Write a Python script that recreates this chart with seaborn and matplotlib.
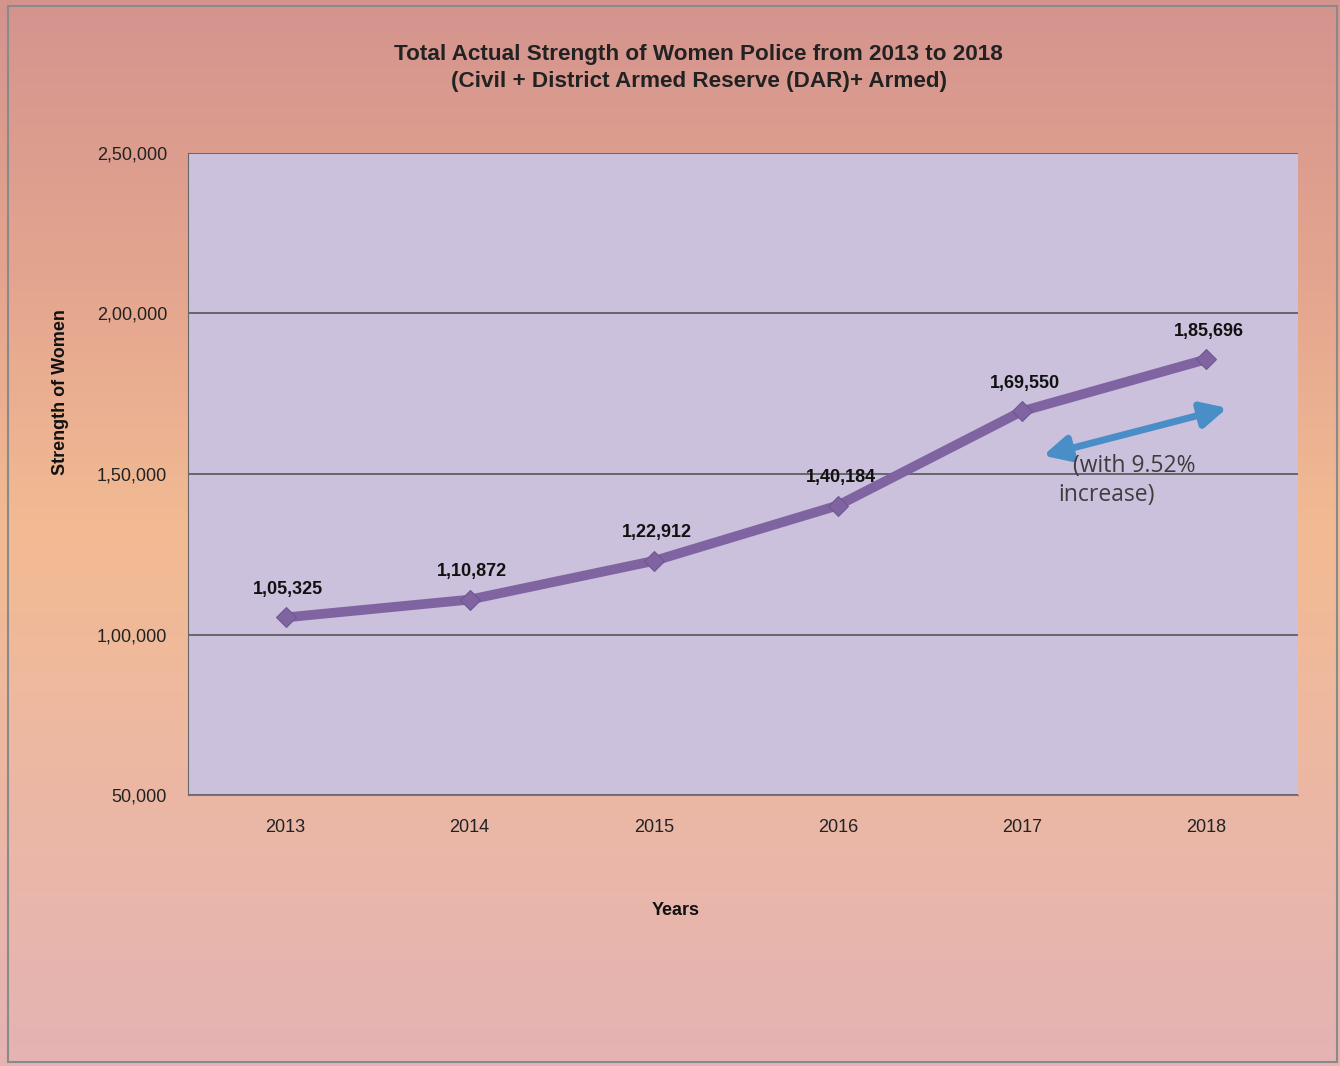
import numpy as np
import pandas as pd
import matplotlib
matplotlib.use("Agg")
import matplotlib.pyplot as plt
from matplotlib.colors import LinearSegmentedColormap
from matplotlib.ticker import FuncFormatter
from matplotlib.patches import Rectangle
import seaborn as sns

years = ["2013", "2014", "2015", "2016", "2017", "2018"]
strength = [105325, 110872, 122912, 140184, 169550, 185696]
y_ticks = [50000, 100000, 150000, 200000, 250000]


def indian(v, pos=None):
    s = str(int(round(v)))
    if len(s) <= 3:
        return s
    head, tail = s[:-3], s[-3:]
    parts = []
    while len(head) > 2:
        parts.insert(0, head[-2:])
        head = head[:-2]
    if head:
        parts.insert(0, head)
    return ",".join(parts + [tail])


df = pd.DataFrame({"Year": years, "Strength": strength})

sns.set_style("white")
plt.rcParams["font.family"] = ["Liberation Sans", "DejaVu Sans"]

fig = plt.figure(figsize=(13.4, 10.66), dpi=100)

# background gradient of the chart area
bg = fig.add_axes([0, 0, 1, 1], zorder=-10)
cmap = LinearSegmentedColormap.from_list(
    "bg", [(0.0, "#d4948e"), (0.25, "#e3a48f"), (0.5, "#f2bb93"),
           (0.8, "#eab7a8"), (1.0, "#e4b3b3")])
grad = np.linspace(0, 1, 256).reshape(-1, 1)
bg.imshow(grad, aspect="auto", cmap=cmap, extent=[0, 1, 0, 1], origin="upper")
bg.add_patch(Rectangle((0.006, 0.004), 0.992, 0.99, fill=False,
                       edgecolor="#8a8a8a", lw=1.5, transform=bg.transAxes))
bg.set_axis_off()

ax = fig.add_axes([0.1403, 0.2542, 0.8284, 0.6023])
ax.set_facecolor("#cbc1dc")
sns.lineplot(data=df, x="Year", y="Strength", ax=ax, color="#8064a2",
             lw=7, marker="D", markersize=10, markeredgecolor="#6f5590",
             sort=False)

ax.set_xlim(-0.53, 5.5)
ax.set_ylim(50000, 250000)
ax.set_yticks(y_ticks)
ax.yaxis.set_major_formatter(FuncFormatter(indian))
ax.grid(axis="y", color="#555555", lw=1.2)
ax.set_axisbelow(True)
for side in ["top", "right"]:
    ax.spines[side].set_visible(False)
ax.spines["left"].set_color("#666666")
ax.spines["bottom"].set_color("#777777")
ax.tick_params(axis="y", labelsize=13, colors="#222222", length=0, pad=15)
ax.tick_params(axis="x", labelsize=13, colors="#222222", length=0, pad=17)

for i, v in enumerate(strength):
    ax.annotate(indian(v), (i, v), xytext=(2, 17), textcoords="offset points",
                ha="center", fontsize=13, fontweight="bold", color="#111111")

ax.annotate("", xy=(4.1, 155500), xytext=(5.13, 170800),
            arrowprops=dict(arrowstyle="<|-|>", color="#4a8ec8", lw=5,
                            mutation_scale=38))
ax.text(4.28, 152500, "(with 9.52%", fontsize=16.5, color="#3d3d3d",
        family=["Open Sans", "DejaVu Sans"], va="center")
ax.text(4.2, 143500, "increase)", fontsize=16.5, color="#3d3d3d",
        family=["Open Sans", "DejaVu Sans"], va="center")

ax.set_xlabel("")
ax.set_ylabel("")
fig.text(0.5045, 0.146, "Years", ha="center", va="center",
         fontsize=13, fontweight="bold", color="#111111")
fig.text(0.045, 0.632, "Strength of Women", ha="center", va="center",
         rotation=90, fontsize=13, fontweight="bold", color="#111111")

fig.text(0.5215, 0.949, "Total Actual Strength of Women Police from 2013 to 2018",
         ha="center", va="center", fontsize=16.2, fontweight="bold", color="#222222")
fig.text(0.5215, 0.924, "(Civil + District Armed Reserve (DAR)+ Armed)",
         ha="center", va="center", fontsize=16.2, fontweight="bold", color="#222222")

fig.savefig("out.png", dpi=100)
